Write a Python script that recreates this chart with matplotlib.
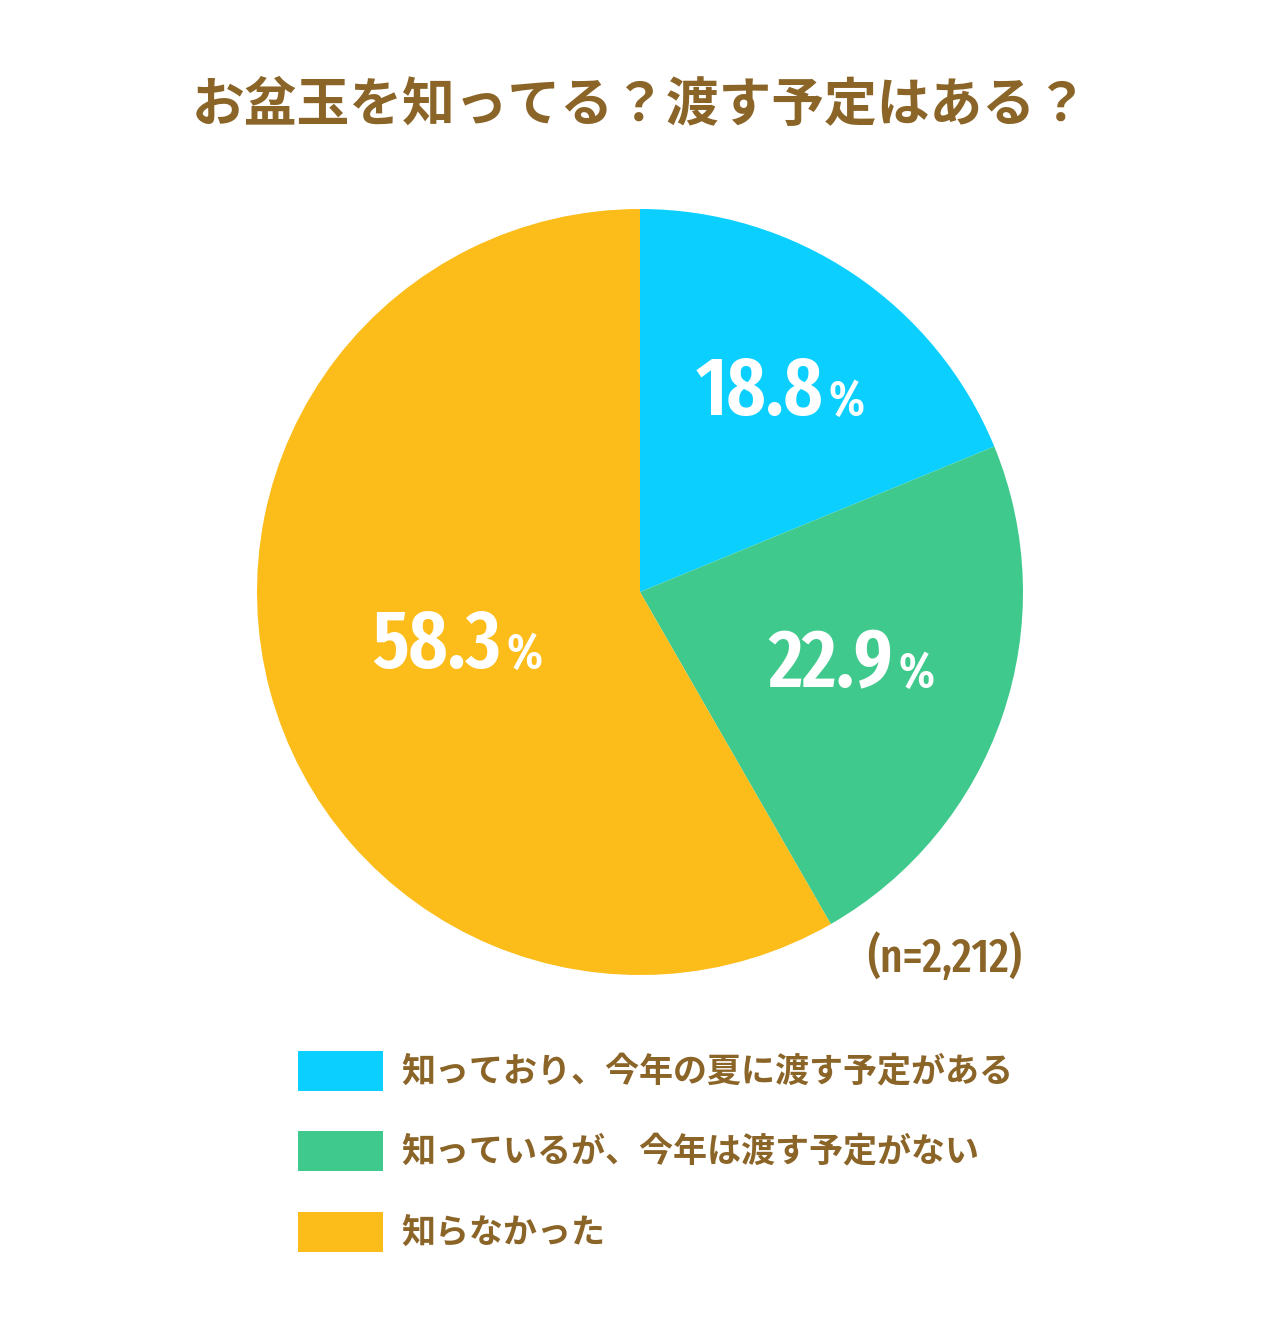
import matplotlib
matplotlib.use("Agg")
import matplotlib.pyplot as plt
from matplotlib.patches import Rectangle
from matplotlib import font_manager as fm

plt.rcParams['font.family'] = ['Noto Sans CJK JP', 'DejaVu Sans']

title = "お盆玉を知ってる？渡す予定はある？"
categories = ["知っており、今年の夏に渡す予定がある",
              "知っているが、今年は渡す予定がない",
              "知らなかった"]
values = [18.8, 22.9, 58.3]
colors = ["#0BD0FF", "#40C98C", "#FCBC19"]
sample_note = "(n=2,212)"
brown = "#8B6428"

WEIGHTS = {'thin': 100, 'extralight': 200, 'light': 300, 'regular': 400, 'normal': 400,
           'medium': 500, 'semibold': 600, 'demibold': 600, 'bold': 700,
           'extrabold': 800, 'black': 900, 'heavy': 900}


def find_narrow(target):
    best = None
    for f in fm.fontManager.ttflist:
        key = (f.name + " " + f.fname).lower().replace('-', '').replace('_', '').replace(' ', '')
        if 'italic' in key or 'oblique' in key or 'ultracondensed' in key:
            continue
        if 'extracondensed' in key:
            width = 3
        elif 'semicondensed' in key:
            width = 1
        elif 'condensed' in key or 'narrow' in key:
            width = 2
        else:
            continue
        w = f.weight if isinstance(f.weight, int) else WEIGHTS.get(str(f.weight).lower(), 400)
        score = width * 1000 - abs(w - target)
        if best is None or score > best[0]:
            best = (score, f.fname)
    return best[1] if best else None


num_font = find_narrow(600)
note_font = find_narrow(500)


def props(fname, size):
    if fname:
        return fm.FontProperties(fname=fname, size=size)
    return fm.FontProperties(family='Roboto', weight='bold', size=size * 0.8)


W, H = 1280, 1331
fig = plt.figure(figsize=(W / 100, H / 100), dpi=100)
ax = fig.add_axes([0, 0, 1, 1])


def Y(py):
    return H - py


cx, cy, r = 640, Y(592), 383
ax.pie(values, colors=colors, startangle=90, counterclock=False,
       center=(cx, cy), radius=r, frame=True, wedgeprops=dict(linewidth=0))
ax.set_xlim(0, W)
ax.set_ylim(0, H)
ax.set_aspect('equal')
ax.axis('off')

# (anchor x between number and %, baseline y)
label_pos = [(823, 415), (893, 687), (501, 668)]
for v, (px, py) in zip(values, label_pos):
    ax.text(px, Y(py), f"{v:.1f}", ha='right', va='baseline',
            fontproperties=props(num_font, 59), color='white')
    ax.text(px + 5, Y(py), "%", ha='left', va='baseline',
            fontproperties=props(num_font, 36), color='white')

ax.text(640, Y(106), title, ha='center', va='center', fontsize=38,
        fontweight='bold', color=brown)
ax.text(1022, Y(972), sample_note, ha='right', va='baseline',
        fontproperties=props(note_font, 34), color=brown)

rows_y = [1071, 1151, 1232]
for lab, col, ry in zip(categories, colors, rows_y):
    ax.add_patch(Rectangle((298, Y(ry) - 20), 85, 40, facecolor=col, edgecolor='none'))
    ax.text(401, Y(ry), lab, ha='left', va='center', fontsize=24.5,
            fontweight='bold', color=brown)

fig.savefig("out.png", dpi=100)
